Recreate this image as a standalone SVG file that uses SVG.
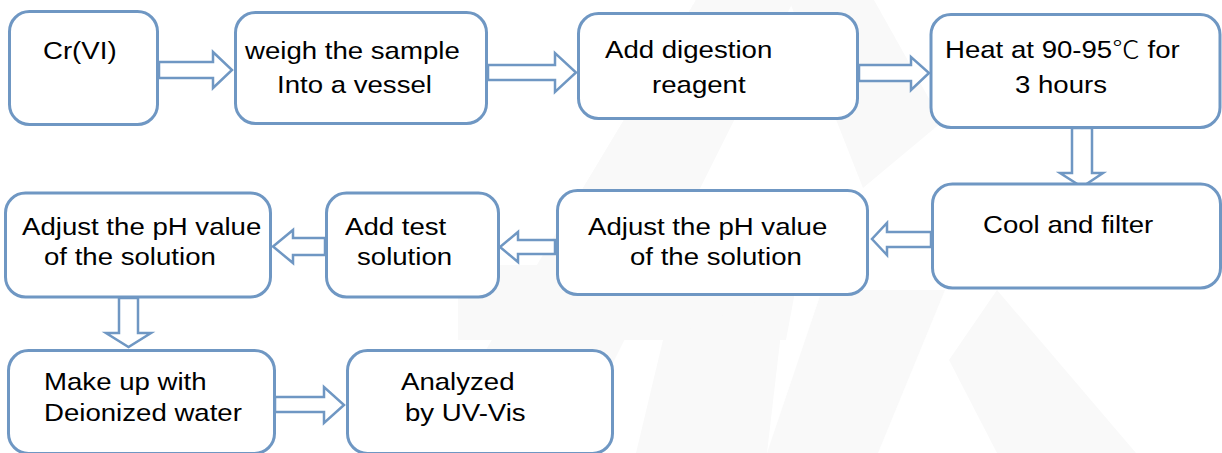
<svg xmlns="http://www.w3.org/2000/svg" width="1222" height="453" viewBox="0 0 1222 453">
  <style>
    .box { fill: #ffffff; stroke: #6f97c3; stroke-width: 3; }
    .arw { fill: #ffffff; stroke: #6f97c3; stroke-width: 2.5; stroke-linejoin: miter; }
    .lbl { font-family: "Liberation Sans", "Noto Sans CJK SC", Arial, sans-serif; font-size: 24px; fill: #000000; }
    .cjk { font-family: "Noto Sans CJK SC", sans-serif; font-weight: 300; }
    .wm { fill: #f9f9f9; }
  </style>

  <rect x="0" y="0" width="1222" height="453" fill="#ffffff"/>

  <!-- faint background logo -->
  <g id="watermark">
    <polygon class="wm" points="696,0 874,0 902,50 942,122 863,188 837,122 789,0 700,188 583,188"/>
    <polygon class="wm" points="696,0 794,0 568,453 424,453"/>
    <polygon class="wm" points="458,265 800,265 786,340 458,340"/>
    <polygon class="wm" points="663,340 786,290 767,453 636,453"/>
    <polygon class="wm" points="822,290 945,290 878,453 767,453"/>
    <polygon class="wm" points="997,290 1136,453 997,453 949,360"/>
  </g>

  <!-- flow connectors (hollow block arrows) -->
  <g id="connectors">
    <polygon class="arw" points="159,62 213,62 213,52 232,70 213,88 213,78 159,78"/>
    <polygon class="arw" points="488,65 555,65 555,53 576,72.5 555,92 555,80 488,80"/>
    <polygon class="arw" points="859,65 911,65 911,57 929,73 911,90 911,81 859,81"/>
    <polygon class="arw" points="1072,128 1092,128 1092,173 1103,173 1082,187 1060,173 1072,173"/>
    <polygon class="arw" points="931,232 887,232 887,223 872,239 887,255 887,247 931,247"/>
    <polygon class="arw" points="555,240 518,240 518,232 500,247 518,262 518,254 555,254"/>
    <polygon class="arw" points="325,238 293,238 293,230 273,246.5 293,263 293,255 325,255"/>
    <polygon class="arw" points="119,298 138,298 138,333 151,333 128.5,347 106,333 119,333"/>
    <polygon class="arw" points="275,397 324,397 324,387 344,405 324,423 324,412 275,412"/>
  </g>

  <g id="n-crvi">
    <rect class="box" x="9.5" y="11.5" width="148" height="113" rx="20"/>
    <text class="lbl" transform="translate(43 59) scale(1.15 1)">Cr(VI)</text>
  </g>

  <g id="n-weigh">
    <rect class="box" x="235.5" y="12.5" width="251" height="111" rx="20"/>
    <text class="lbl" transform="translate(245 59) scale(1.15 1)">weigh the sample</text>
    <text class="lbl" transform="translate(277 93) scale(1.15 1)">Into a vessel</text>
  </g>

  <g id="n-digest">
    <rect class="box" x="578.5" y="13.5" width="279" height="105" rx="20"/>
    <text class="lbl" transform="translate(605 58) scale(1.15 1)">Add digestion</text>
    <text class="lbl" transform="translate(652 93) scale(1.15 1)">reagent</text>
  </g>

  <g id="n-heat">
    <rect class="box" x="931" y="14.5" width="289" height="113" rx="20"/>
    <text class="lbl" transform="translate(945 58) scale(1.15 1)">Heat at 90-95<tspan class="cjk">℃</tspan> for</text>
    <text class="lbl" transform="translate(1015 93) scale(1.15 1)">3 hours</text>
  </g>

  <g id="n-cool">
    <rect class="box" x="932.5" y="184" width="288" height="104" rx="20"/>
    <text class="lbl" transform="translate(983 233) scale(1.15 1)">Cool and filter</text>
  </g>

  <g id="n-ph1">
    <rect class="box" x="557.5" y="190.5" width="310" height="104" rx="20"/>
    <text class="lbl" transform="translate(588 235) scale(1.15 1)">Adjust the pH value</text>
    <text class="lbl" transform="translate(630 265) scale(1.15 1)">of the solution</text>
  </g>

  <g id="n-test">
    <rect class="box" x="326.5" y="193" width="172" height="104" rx="20"/>
    <text class="lbl" transform="translate(345 235) scale(1.15 1)">Add test</text>
    <text class="lbl" transform="translate(357 265) scale(1.15 1)">solution</text>
  </g>

  <g id="n-ph2">
    <rect class="box" x="5.5" y="193" width="265" height="104" rx="20"/>
    <text class="lbl" transform="translate(22 235) scale(1.15 1)">Adjust the pH value</text>
    <text class="lbl" transform="translate(44 265) scale(1.15 1)">of the solution</text>
  </g>

  <g id="n-makeup">
    <rect class="box" x="8.5" y="350.5" width="266" height="103" rx="20"/>
    <text class="lbl" transform="translate(44 390) scale(1.15 1)">Make up with</text>
    <text class="lbl" transform="translate(44 421) scale(1.15 1)">Deionized water</text>
  </g>

  <g id="n-uvvis">
    <rect class="box" x="347.5" y="350.5" width="265" height="103" rx="20"/>
    <text class="lbl" transform="translate(401 390) scale(1.15 1)">Analyzed</text>
    <text class="lbl" transform="translate(405 421) scale(1.15 1)">by UV-Vis</text>
  </g>
</svg>
